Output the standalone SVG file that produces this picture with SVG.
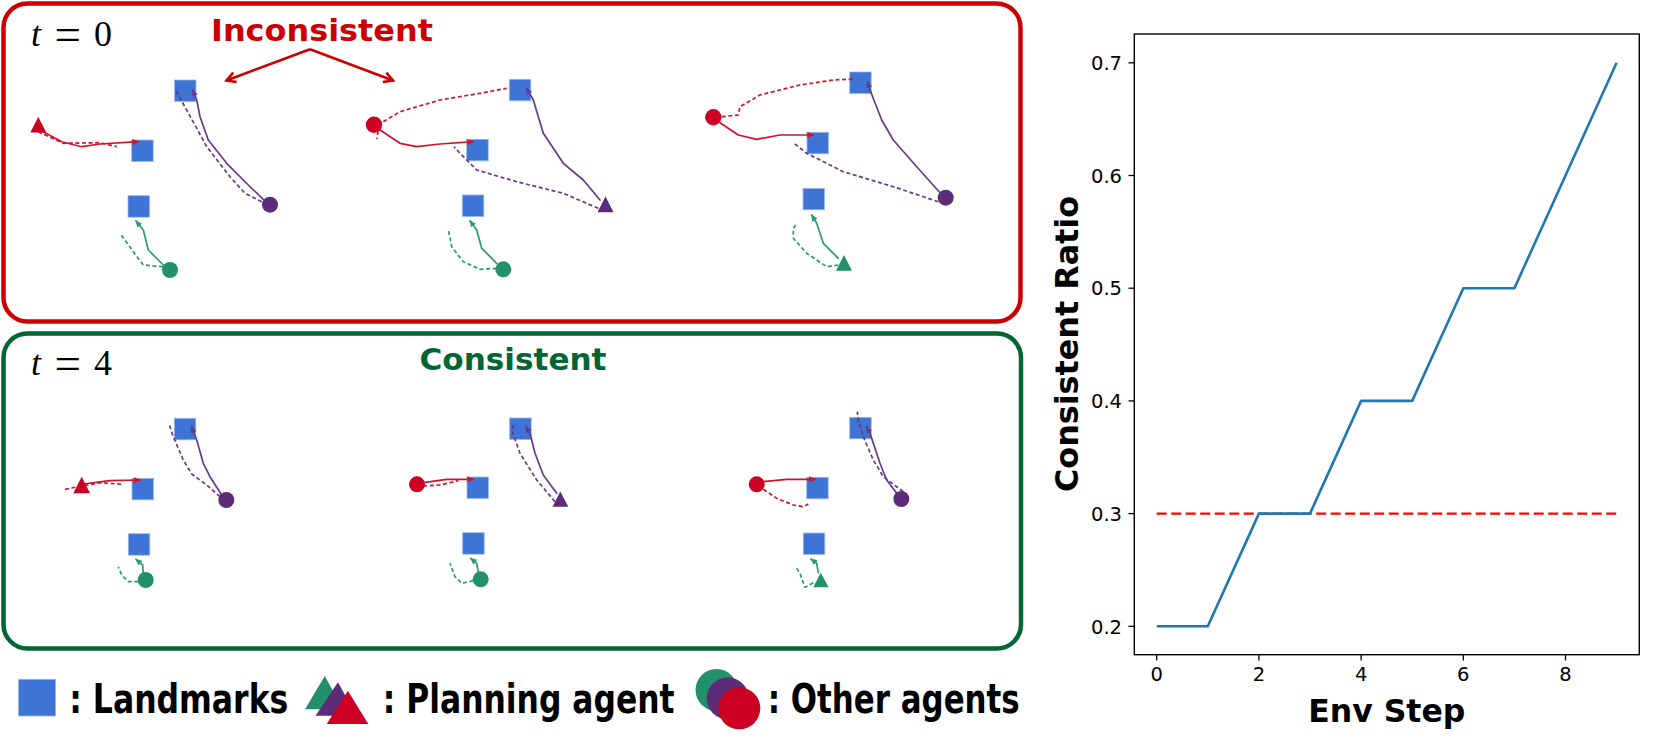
<svg xmlns="http://www.w3.org/2000/svg" width="1661" height="739" viewBox="0 0 1661 739">
<style>
.lm{fill:#3E74D6;stroke:#9bb8ea;stroke-width:0.8}
.ar{fill:#CC0022}.ap{fill:#5C2C78}.ag{fill:#22906A}
.tr{fill:none;stroke:#D0142C;stroke-width:1.7;stroke-linejoin:round;stroke-linecap:round}
.tp{fill:none;stroke:#663A88;stroke-width:1.7;stroke-linejoin:round;stroke-linecap:round}
.tg{fill:none;stroke:#2A9A72;stroke-width:1.7;stroke-linejoin:round;stroke-linecap:round}
.d{stroke-dasharray:4 2.6;stroke-linecap:butt}
.tick{font-family:"DejaVu Sans",sans-serif;font-size:19.5px;fill:#000}
.bold{font-family:"DejaVu Sans","Liberation Sans",sans-serif;font-weight:bold}
.leg{font-family:"DejaVu Sans","Liberation Sans",sans-serif;font-weight:bold;font-size:40px;fill:#000}
.math{font-family:"Liberation Serif",serif;font-size:36px;fill:#000}
</style>
<defs>
<marker id="mr" markerUnits="userSpaceOnUse" markerWidth="7" markerHeight="6" refX="6" refY="3" orient="auto"><path d="M0,0 L7,3 L0,6 z" fill="#D0142C"/></marker>
<marker id="mp" markerUnits="userSpaceOnUse" markerWidth="7" markerHeight="6" refX="6" refY="3" orient="auto"><path d="M0,0 L7,3 L0,6 z" fill="#663A88"/></marker>
<marker id="mg" markerUnits="userSpaceOnUse" markerWidth="7" markerHeight="6" refX="6" refY="3" orient="auto"><path d="M0,0 L7,3 L0,6 z" fill="#2A9A72"/></marker>
<marker id="ma" markerUnits="userSpaceOnUse" markerWidth="14" markerHeight="14" refX="10" refY="6" orient="auto"><path d="M1,1 L10,6 L1,11" fill="none" stroke="#CC0000" stroke-width="2.6"/></marker>
</defs>
<rect width="1661" height="739" fill="#fff"/>

<g id="panel-t0">
<rect x="3.5" y="3.5" width="1017" height="318" rx="24" fill="none" stroke="#CC0000" stroke-width="4.5"/>
<text class="math" x="31" y="46"><tspan font-style="italic">t</tspan><tspan x="54.5" y="49.5" font-size="47">=</tspan><tspan x="94" y="46">0</tspan></text>
<text class="bold" x="322" y="40.7" font-size="31" fill="#CC0000" text-anchor="middle" textLength="222" lengthAdjust="spacingAndGlyphs">Inconsistent</text>
<path d="M310,49.3 L226.5,80.5" fill="none" stroke="#CC0000" stroke-width="2.6" marker-end="url(#ma)"/>
<path d="M310,49.3 L393,80.5" fill="none" stroke="#CC0000" stroke-width="2.6" marker-end="url(#ma)"/>
</g>
<g id="panel-t4">
<rect x="3.5" y="333.5" width="1017.5" height="315" rx="24" fill="none" stroke="#006633" stroke-width="4.5"/>
<text class="math" x="31" y="375"><tspan font-style="italic">t</tspan><tspan x="54.5" y="378.5" font-size="47">=</tspan><tspan x="94" y="375">4</tspan></text>
<text class="bold" x="513" y="370" font-size="31" fill="#006633" text-anchor="middle" textLength="187" lengthAdjust="spacingAndGlyphs">Consistent</text>
</g>

<g id="s1-landmark-1"><rect class="lm" x="174.5" y="80" width="21.5" height="21.5"/></g>
<g id="s1-landmark-2"><rect class="lm" x="131.7" y="140" width="21.5" height="21.5"/></g>
<g id="s1-landmark-3"><rect class="lm" x="128" y="195.7" width="21.5" height="21.5"/></g>
<g id="s2-landmark-1"><rect class="lm" x="509.3" y="79.3" width="21.5" height="21.5"/></g>
<g id="s2-landmark-2"><rect class="lm" x="466.7" y="139.3" width="21.5" height="21.5"/></g>
<g id="s2-landmark-3"><rect class="lm" x="462.3" y="195" width="21.5" height="21.5"/></g>
<g id="s3-landmark-1"><rect class="lm" x="849.7" y="72" width="21.5" height="21.5"/></g>
<g id="s3-landmark-2"><rect class="lm" x="807" y="132.3" width="21.5" height="21.5"/></g>
<g id="s3-landmark-3"><rect class="lm" x="803" y="188.3" width="21.5" height="21.5"/></g>
<g id="s4-landmark-1"><rect class="lm" x="174.3" y="418.3" width="21.5" height="21.5"/></g>
<g id="s4-landmark-2"><rect class="lm" x="132" y="478.3" width="21.5" height="21.5"/></g>
<g id="s4-landmark-3"><rect class="lm" x="128.3" y="533.7" width="21.5" height="21.5"/></g>
<g id="s5-landmark-1"><rect class="lm" x="509.7" y="418" width="21.5" height="21.5"/></g>
<g id="s5-landmark-2"><rect class="lm" x="467" y="477" width="21.5" height="21.5"/></g>
<g id="s5-landmark-3"><rect class="lm" x="462.7" y="532.7" width="21.5" height="21.5"/></g>
<g id="s6-landmark-1"><rect class="lm" x="849.7" y="417.3" width="21.5" height="21.5"/></g>
<g id="s6-landmark-2"><rect class="lm" x="806.7" y="477.3" width="21.5" height="21.5"/></g>
<g id="s6-landmark-3"><rect class="lm" x="803.3" y="533" width="21.5" height="21.5"/></g>

<g id="connectors">
<!-- scene 1 -->
<path class="tr" d="M40,130 L61.7,141.7 L81.7,146.7 L100,144 L138.3,141.7" marker-end="url(#mr)"/>
<path class="tr d" d="M38.3,131.7 L63.3,143.3 L100,142.7 L116.7,146.7"/>
<path class="tp" d="M263.3,199.3 L248.3,185 L226.7,163.3 L208.3,140 L200,116.7 L196.7,100 L192.7,90" marker-end="url(#mp)"/>
<path class="tp d" d="M261.7,201.7 L245,193.3 L230,176.7 L206.7,146.7 L186.7,110 L175,89"/>
<path class="tg" d="M163.3,265 L148.3,250 L143.3,230 L136,221" marker-end="url(#mg)"/>
<path class="tg d" d="M163,266.7 L143.3,265 L133.3,251.7 L120,233.3"/>
<!-- scene 2 -->
<path class="tr" d="M380,130 L400,143.3 L416.7,146.7 L440,144 L473.3,141.7" marker-end="url(#mr)"/>
<path class="tr d" d="M383.3,121.7 L400,111.7 L440,100 L480,93.3 L506.7,88.3"/>
<path class="tr d" d="M378,131 L377,139"/>
<path class="tp" d="M600,200 L583.3,180 L563.3,163.3 L543.3,133.3 L533.3,100 L526.7,88.3" marker-end="url(#mp)"/>
<path class="tp d" d="M598.3,208.3 L563.3,193.3 L516.7,181.7 L476.7,170 L460,153.3 L454,146.7"/>
<path class="tg" d="M496.7,263.3 L481.7,248.3 L476.7,230 L470,220.7" marker-end="url(#mg)"/>
<path class="tg d" d="M496.7,268.3 L480,269.3 L463.3,261.7 L451.7,246.7 L448.3,229.3"/>
<!-- scene 3 -->
<path class="tr" d="M720,122.7 L738.3,135 L756.7,139.3 L780,135 L813.3,135" marker-end="url(#mr)"/>
<path class="tr d" d="M721.7,116.7 L738.3,115 L740,106.7 L760,95 L800,85 L833.3,80 L855,79"/>
<path class="tp" d="M940,192.7 L916.7,166.7 L893.3,140 L881.7,120 L870,90 L867.3,81.7" marker-end="url(#mp)"/>
<path class="tp d" d="M938.3,201.7 L893.3,186.7 L843.3,171.7 L806.7,153.3 L793.3,142.7"/>
<path class="tg" d="M838.3,258.3 L823.3,243.3 L816.7,223.3 L811.7,215" marker-end="url(#mg)"/>
<path class="tg d" d="M838.3,265 L826.7,266.7 L806.7,253.3 L793.3,238.3 L793.3,228.3 L797.3,222.7"/>
<!-- scene 4 -->
<path class="tr" d="M83.3,484 L110,480.7 L140,480" marker-end="url(#mr)"/>
<path class="tr d" d="M65,489.3 L81.7,486 L100,482.7 L121.7,484.3"/>
<path class="tp" d="M221.7,495 L210,476.7 L203.3,463.3 L196.7,440 L191.7,426.7" marker-end="url(#mp)"/>
<path class="tp d" d="M220,496.7 L206.7,485 L191.7,474 L183.3,460 L173.3,436.7 L169.3,425"/>
<path class="tg" d="M143.3,575 L142.7,565 L136,559.3" marker-end="url(#mg)"/>
<path class="tg d" d="M138.3,581.7 L128.3,581.7 L121.7,575 L118.3,566.7"/>
<!-- scene 5 -->
<path class="tr" d="M423.3,482.7 L446.7,479.3 L473.3,479.3" marker-end="url(#mr)"/>
<path class="tr d" d="M423.3,486 L440,485 L458.3,480.7"/>
<path class="tp" d="M556.7,493.3 L543.3,475 L535,453.3 L530,433.3 L525.7,426.7" marker-end="url(#mp)"/>
<path class="tp d" d="M555,501.7 L536.7,480 L520,453.3 L511.7,430 L514,424.3"/>
<path class="tg" d="M478.3,571.7 L476.7,563.3 L470.7,558.3" marker-end="url(#mg)"/>
<path class="tg d" d="M473.3,580.7 L461.7,583.3 L455,576.7 L450,563.3"/>
<!-- scene 6 -->
<path class="tr" d="M763.3,481.7 L786.7,479.3 L815,479.3" marker-end="url(#mr)"/>
<path class="tr d" d="M763.3,489.3 L776.7,498.3 L793.3,505 L803.3,506.7 L808.3,504"/>
<path class="tp" d="M896.7,493.3 L886.7,480 L880,463.3 L873.3,443.3 L870,433.3 L866.7,426.7" marker-end="url(#mp)"/>
<path class="tp d" d="M903.3,491.7 L883.3,476.7 L873.3,460 L863.3,436.7 L858.3,420 L857.3,411.7"/>
<path class="tg" d="M818.3,572.7 L816.7,563.3 L811,559" marker-end="url(#mg)"/>
<path class="tg d" d="M813.3,582.7 L805,587.3 L800,573.3 L796,567.3"/>
</g>

<g id="s1-red-agent"><path class="ar" d="M38.3,117 L46.3,132.5 L30.3,132.5 z"/></g>
<g id="s1-purple-agent"><circle class="ap" cx="270" cy="204.7" r="8"/></g>
<g id="s1-green-agent"><circle class="ag" cx="170" cy="270" r="8"/></g>
<g id="s2-red-agent"><circle class="ar" cx="374" cy="124.7" r="8.2"/></g>
<g id="s2-purple-agent"><path class="ap" d="M605.5,196.5 L613.5,212.3 L597.5,212.3 z"/></g>
<g id="s2-green-agent"><circle class="ag" cx="503.3" cy="269.3" r="8"/></g>
<g id="s3-red-agent"><circle class="ar" cx="713.3" cy="117.3" r="8.2"/></g>
<g id="s3-purple-agent"><circle class="ap" cx="945.7" cy="197.7" r="8"/></g>
<g id="s3-green-agent"><path class="ag" d="M844,255 L852,270.7 L836,270.7 z"/></g>
<g id="s4-red-agent"><path class="ar" d="M81.7,476.7 L90,493.3 L73.3,493.3 z"/></g>
<g id="s4-purple-agent"><circle class="ap" cx="226.3" cy="500" r="8"/></g>
<g id="s4-green-agent"><circle class="ag" cx="145.7" cy="580" r="8"/></g>
<g id="s5-red-agent"><circle class="ar" cx="417" cy="484.3" r="8"/></g>
<g id="s5-purple-agent"><path class="ap" d="M560.3,491.5 L568.3,506.7 L552.5,506.7 z"/></g>
<g id="s5-green-agent"><circle class="ag" cx="480.7" cy="579.3" r="8"/></g>
<g id="s6-red-agent"><circle class="ar" cx="756.7" cy="484.3" r="8"/></g>
<g id="s6-purple-agent"><circle class="ap" cx="901.3" cy="499" r="8"/></g>
<g id="s6-green-agent"><path class="ag" d="M820.7,572.7 L828.7,587.3 L813.3,587.3 z"/></g>

<g id="legend">
<rect x="18.5" y="679.3" width="37" height="36.7" fill="#3E74D6" stroke="#9bb8ea" stroke-width="0.8"/>
<text class="leg" x="69.3" y="712.7" textLength="219" lengthAdjust="spacingAndGlyphs">: Landmarks</text>
<path class="ag" d="M324.8,676 L343.2,709.3 L305,709.3 z"/>
<path class="ap" d="M338,682.3 L356.4,715.7 L315.5,715.7 z"/>
<path class="ar" d="M347.9,690.7 L368.3,724 L326.7,724 z"/>
<text class="leg" x="382.8" y="712.7" textLength="291.8" lengthAdjust="spacingAndGlyphs">: Planning agent</text>
<circle class="ag" cx="716.5" cy="690" r="21"/>
<circle class="ap" cx="727.7" cy="698.3" r="21"/>
<circle class="ar" cx="739.3" cy="708.3" r="21"/>
<text class="leg" x="767.7" y="712.7" textLength="252" lengthAdjust="spacingAndGlyphs">: Other agents</text>
</g>

<g id="chart">
<rect x="1134.3" y="34" width="505" height="620.7" fill="none" stroke="#000" stroke-width="1.4"/>
<g stroke="#000" stroke-width="1.3">
<line x1="1128.5" y1="626.3" x2="1134.3" y2="626.3"/>
<line x1="1128.5" y1="513.6" x2="1134.3" y2="513.6"/>
<line x1="1128.5" y1="400.9" x2="1134.3" y2="400.9"/>
<line x1="1128.5" y1="288.2" x2="1134.3" y2="288.2"/>
<line x1="1128.5" y1="175.5" x2="1134.3" y2="175.5"/>
<line x1="1128.5" y1="62.8" x2="1134.3" y2="62.8"/>
<line x1="1156.7" y1="654.7" x2="1156.7" y2="660.5"/>
<line x1="1258.9" y1="654.7" x2="1258.9" y2="660.5"/>
<line x1="1361.1" y1="654.7" x2="1361.1" y2="660.5"/>
<line x1="1463.3" y1="654.7" x2="1463.3" y2="660.5"/>
<line x1="1565.5" y1="654.7" x2="1565.5" y2="660.5"/>
</g>
<g class="tick" text-anchor="end">
<text x="1122" y="633.5">0.2</text>
<text x="1122" y="520.8">0.3</text>
<text x="1122" y="408.1">0.4</text>
<text x="1122" y="295.4">0.5</text>
<text x="1122" y="182.7">0.6</text>
<text x="1122" y="70">0.7</text>
</g>
<g class="tick" text-anchor="middle">
<text x="1156.7" y="680.7">0</text>
<text x="1258.9" y="680.7">2</text>
<text x="1361.1" y="680.7">4</text>
<text x="1463.3" y="680.7">6</text>
<text x="1565.5" y="680.7">8</text>
</g>
<line x1="1156.7" y1="513.6" x2="1616.6" y2="513.6" stroke="#FF0000" stroke-width="2.4" stroke-dasharray="10 4.5"/>
<polyline points="1156.7,626.3 1207.8,626.3 1258.9,513.6 1310,513.6 1361.1,400.9 1412.2,400.9 1463.3,288.2 1514.4,288.2 1565.5,175.5 1616.6,62.8" fill="none" stroke="#1F77B4" stroke-width="2.6" stroke-linejoin="round"/>
<text class="bold" x="1386.8" y="722" font-size="31.5" text-anchor="middle">Env Step</text>
<text class="bold" font-size="31.5" text-anchor="middle" transform="translate(1077.5,344) rotate(-90)" textLength="296" lengthAdjust="spacingAndGlyphs">Consistent Ratio</text>
</g>
</svg>
